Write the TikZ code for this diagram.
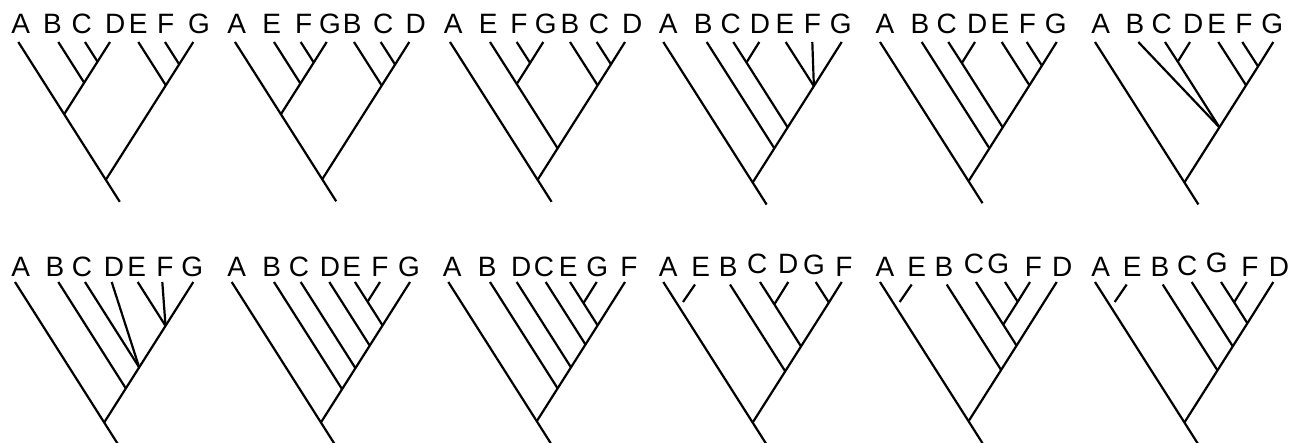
\documentclass[tikz,border=0pt]{standalone}
\usepackage{fontspec}
\setmainfont{Liberation Sans}
\usetikzlibrary{calc}
\newcommand\kk{0.635}
\newcommand\tipc[3]{\coordinate (#1) at (#2,#3); \coordinate (#1R) at ($(#1)+(\kk,1)$); \coordinate (#1L) at ($(#1)+(-\kk,1)$);}
\newcommand\junc[3]{\coordinate (#1) at (intersection of #2--#2R and #3--#3L);}
\newcommand\stemc[1]{\coordinate (#1S) at ($(#1)+({22*\kk},22)$);}
\newcommand\stubc[1]{\coordinate (#1e) at ($(#1)+(-12,17.5)$);}
\begin{document}
\begin{tikzpicture}[x=1pt,y={(0pt,-1pt)},
  br/.style={line width=2.2pt},
  lab/.style={anchor=base, inner sep=0pt, font=\fontsize{28}{28}\selectfont}]
\useasboundingbox (0,0) rectangle (1301,443);
%%%%%%%%%%%%%%%% Row 1
% Tree 1
\tipc{t1A}{18.3}{42}\tipc{t1B}{58.3}{42}\tipc{t1C}{85}{42}\tipc{t1D}{110}{42}\tipc{t1E}{138.3}{42}\tipc{t1F}{165}{42}\tipc{t1G}{193.3}{42}
\junc{t1cd}{t1C}{t1D}\junc{t1bcd}{t1B}{t1D}\junc{t1abcd}{t1A}{t1D}\junc{t1fg}{t1F}{t1G}\junc{t1efg}{t1E}{t1G}\junc{t1r}{t1A}{t1G}\stemc{t1r}
\draw[br] (t1A)--(t1abcd)--(t1r)--(t1rS);
\draw[br] (t1B)--(t1bcd); \draw[br] (t1C)--(t1cd); \draw[br] (t1D)--(t1cd)--(t1bcd)--(t1abcd);
\draw[br] (t1E)--(t1efg); \draw[br] (t1F)--(t1fg); \draw[br] (t1G)--(t1fg)--(t1efg)--(t1r);
\node[lab] (l1A) at (20.8,33.3) {A}; \node[lab] (l1B) at (52.5,33.3) {B}; \node[lab] (l1C) at (81.7,33.3) {C};
\node[lab] (l1D) at (115.3,33.3) {D}; \node[lab] (l1E) at (138.3,33.3) {E}; \node[lab] (l1F) at (165.7,33.3) {F}; \node[lab] (l1G) at (199,33.3) {G};
% Tree 2
\tipc{t2A}{235}{42}\tipc{t2E}{274}{42}\tipc{t2F}{300.7}{42}\tipc{t2G}{326.7}{42}\tipc{t2B}{354}{42}\tipc{t2C}{380.7}{42}\tipc{t2D}{409.3}{42}
\junc{t2fg}{t2F}{t2G}\junc{t2efg}{t2E}{t2G}\junc{t2aefg}{t2A}{t2G}\junc{t2cd}{t2C}{t2D}\junc{t2bcd}{t2B}{t2D}\junc{t2r}{t2A}{t2D}\stemc{t2r}
\draw[br] (t2A)--(t2aefg)--(t2r)--(t2rS);
\draw[br] (t2E)--(t2efg); \draw[br] (t2F)--(t2fg); \draw[br] (t2G)--(t2fg)--(t2efg)--(t2aefg);
\draw[br] (t2B)--(t2bcd); \draw[br] (t2C)--(t2cd); \draw[br] (t2D)--(t2cd)--(t2bcd)--(t2r);
\node[lab] (l2A) at (236.7,33.3) {A}; \node[lab] (l2E) at (271.7,33.3) {E}; \node[lab] (l2F) at (303.7,33.3) {F};
\node[lab] (l2G) at (330,33.3) {G}; \node[lab] (l2B) at (352.3,33.3) {B}; \node[lab] (l2C) at (383.3,33.3) {C}; \node[lab] (l2D) at (415.7,33.3) {D};
% Tree 3
\tipc{t3A}{450}{42}\tipc{t3E}{490}{42}\tipc{t3F}{516.7}{42}\tipc{t3G}{543.3}{42}\tipc{t3B}{570}{42}\tipc{t3C}{596.7}{42}\tipc{t3D}{625}{42}
\junc{t3fg}{t3F}{t3G}\junc{t3efg}{t3E}{t3G}\junc{t3cd}{t3C}{t3D}\junc{t3bcd}{t3B}{t3D}\junc{t3m}{t3E}{t3D}\junc{t3r}{t3A}{t3D}\stemc{t3r}
\draw[br] (t3A)--(t3r)--(t3rS);
\draw[br] (t3E)--(t3efg)--(t3m); \draw[br] (t3F)--(t3fg); \draw[br] (t3G)--(t3fg)--(t3efg);
\draw[br] (t3B)--(t3bcd); \draw[br] (t3C)--(t3cd); \draw[br] (t3D)--(t3cd)--(t3bcd)--(t3m)--(t3r);
\node[lab] (l3A) at (453.3,33.3) {A}; \node[lab] (l3E) at (488.3,33.3) {E}; \node[lab] (l3F) at (519,33.3) {F};
\node[lab] (l3G) at (545.7,33.3) {G}; \node[lab] (l3B) at (570,33.3) {B}; \node[lab] (l3C) at (599,33.3) {C}; \node[lab] (l3D) at (632.3,33.3) {D};
% Tree 4
\tipc{t4A}{663.3}{42}\tipc{t4B}{706.7}{42}\tipc{t4C}{733.3}{42}\tipc{t4D}{759.3}{42}\tipc{t4E}{785.7}{42}\tipc{t4F}{812.3}{42}\tipc{t4G}{841.7}{42}
\junc{t4cd}{t4C}{t4D}\junc{t4efg}{t4E}{t4G}\junc{t4cx}{t4C}{t4G}\junc{t4bx}{t4B}{t4G}\junc{t4r}{t4A}{t4G}\stemc{t4r}
\draw[br] (t4A)--(t4r)--(t4rS);
\draw[br] (t4B)--(t4bx); \draw[br] (t4C)--(t4cd)--(t4cx); \draw[br] (t4D)--(t4cd);
\draw[br] (t4E)--(t4efg); \draw[br] (t4F)--(t4efg); \draw[br] (t4G)--(t4efg)--(t4cx)--(t4bx)--(t4r);
\node[lab] (l4A) at (668.3,33.3) {A}; \node[lab] (l4B) at (703.3,33.3) {B}; \node[lab] (l4C) at (730.7,33.3) {C};
\node[lab] (l4D) at (760,33.3) {D}; \node[lab] (l4E) at (785,33.3) {E}; \node[lab] (l4F) at (812.3,33.3) {F}; \node[lab] (l4G) at (840.7,33.3) {G};
% Tree 5
\tipc{t5A}{880}{42}\tipc{t5B}{921.7}{42}\tipc{t5C}{948.3}{42}\tipc{t5D}{975}{42}\tipc{t5E}{1001.7}{42}\tipc{t5F}{1026.7}{42}\tipc{t5G}{1056.7}{42}
\junc{t5cd}{t5C}{t5D}\junc{t5fg}{t5F}{t5G}\junc{t5efg}{t5E}{t5G}\junc{t5cx}{t5C}{t5G}\junc{t5bx}{t5B}{t5G}\junc{t5r}{t5A}{t5G}\stemc{t5r}
\draw[br] (t5A)--(t5r)--(t5rS);
\draw[br] (t5B)--(t5bx); \draw[br] (t5C)--(t5cd)--(t5cx); \draw[br] (t5D)--(t5cd);
\draw[br] (t5E)--(t5efg); \draw[br] (t5F)--(t5fg); \draw[br] (t5G)--(t5fg)--(t5efg)--(t5cx)--(t5bx)--(t5r);
\node[lab] (l5A) at (885,33.3) {A}; \node[lab] (l5B) at (920,33.3) {B}; \node[lab] (l5C) at (946.7,33.3) {C};
\node[lab] (l5D) at (977.3,33.3) {D}; \node[lab] (l5E) at (1000,33.3) {E}; \node[lab] (l5F) at (1027.3,33.3) {F}; \node[lab] (l5G) at (1055.7,33.3) {G};
% Tree 6
\tipc{t6A}{1095}{42}\tipc{t6B}{1138.3}{42}\tipc{t6C}{1165}{42}\tipc{t6D}{1190}{42}\tipc{t6E}{1218.3}{42}\tipc{t6F}{1242.3}{42}\tipc{t6G}{1273.3}{42}
\junc{t6cd}{t6C}{t6D}\junc{t6fg}{t6F}{t6G}\junc{t6efg}{t6E}{t6G}\junc{t6cx}{t6C}{t6G}\junc{t6r}{t6A}{t6G}\stemc{t6r}
\draw[br] (t6A)--(t6r)--(t6rS);
\draw[br] (t6B)--(t6cx); \draw[br] (t6C)--(t6cd)--(t6cx); \draw[br] (t6D)--(t6cd);
\draw[br] (t6E)--(t6efg); \draw[br] (t6F)--(t6fg); \draw[br] (t6G)--(t6fg)--(t6efg)--(t6cx)--(t6r);
\node[lab] (l6A) at (1100.7,33.3) {A}; \node[lab] (l6B) at (1135,33.3) {B}; \node[lab] (l6C) at (1161.7,33.3) {C};
\node[lab] (l6D) at (1193.3,33.3) {D}; \node[lab] (l6E) at (1216.7,33.3) {E}; \node[lab] (l6F) at (1244,33.3) {F}; \node[lab] (l6G) at (1272.3,33.3) {G};
%%%%%%%%%%%%%%%% Row 2
% Tree 7
\tipc{t7A}{15}{282}\tipc{t7B}{58.3}{282}\tipc{t7C}{85}{282}\tipc{t7D}{111.7}{282}\tipc{t7E}{137.7}{282}\tipc{t7F}{162.3}{282}\tipc{t7G}{193.3}{282}
\junc{t7efg}{t7E}{t7G}\junc{t7cx}{t7C}{t7G}\junc{t7bx}{t7B}{t7G}\junc{t7r}{t7A}{t7G}\stemc{t7r}
\draw[br] (t7A)--(t7r)--(t7rS);
\draw[br] (t7B)--(t7bx); \draw[br] (t7C)--(t7cx); \draw[br] (t7D)--(t7cx);
\draw[br] (t7E)--(t7efg); \draw[br] (t7F)--(t7efg); \draw[br] (t7G)--(t7efg)--(t7cx)--(t7bx)--(t7r);
\node[lab] (l7A) at (20.7,276.5) {A}; \node[lab] (l7B) at (55,276.5) {B}; \node[lab] (l7C) at (82,276.5) {C};
\node[lab] (l7D) at (114,276.5) {D}; \node[lab] (l7E) at (136.7,276.5) {E}; \node[lab] (l7F) at (165,276.5) {F}; \node[lab] (l7G) at (192.3,276.5) {G};
% Tree 8
\tipc{t8A}{231.7}{282}\tipc{t8B}{274}{282}\tipc{t8C}{300.7}{282}\tipc{t8D}{329.3}{282}\tipc{t8E}{355}{282}\tipc{t8F}{380}{282}\tipc{t8G}{410}{282}
\junc{t8ef}{t8E}{t8F}\junc{t8efg}{t8E}{t8G}\junc{t8dx}{t8D}{t8G}\junc{t8cx}{t8C}{t8G}\junc{t8bx}{t8B}{t8G}\junc{t8r}{t8A}{t8G}\stemc{t8r}
\draw[br] (t8A)--(t8r)--(t8rS);
\draw[br] (t8B)--(t8bx); \draw[br] (t8C)--(t8cx); \draw[br] (t8D)--(t8dx);
\draw[br] (t8E)--(t8ef)--(t8efg); \draw[br] (t8F)--(t8ef); \draw[br] (t8G)--(t8efg)--(t8dx)--(t8cx)--(t8bx)--(t8r);
\node[lab] (l8A) at (236.7,276.5) {A}; \node[lab] (l8B) at (271.7,276.5) {B}; \node[lab] (l8C) at (299,276.5) {C};
\node[lab] (l8D) at (330,276.5) {D}; \node[lab] (l8E) at (351.7,276.5) {E}; \node[lab] (l8F) at (380,276.5) {F}; \node[lab] (l8G) at (409,276.5) {G};
% Tree 9
\tipc{t9A}{448.3}{282}\tipc{t9B}{490}{282}\tipc{t9D}{516.7}{282}\tipc{t9C}{545.7}{282}\tipc{t9E}{570}{282}\tipc{t9G}{596.7}{282}\tipc{t9F}{625}{282}
\junc{t9eg}{t9E}{t9G}\junc{t9egf}{t9E}{t9F}\junc{t9cx}{t9C}{t9F}\junc{t9dx}{t9D}{t9F}\junc{t9bx}{t9B}{t9F}\junc{t9r}{t9A}{t9F}\stemc{t9r}
\draw[br] (t9A)--(t9r)--(t9rS);
\draw[br] (t9B)--(t9bx); \draw[br] (t9D)--(t9dx); \draw[br] (t9C)--(t9cx);
\draw[br] (t9E)--(t9eg)--(t9egf); \draw[br] (t9G)--(t9eg); \draw[br] (t9F)--(t9egf)--(t9cx)--(t9dx)--(t9bx)--(t9r);
\node[lab] (l9A) at (452.3,276.5) {A}; \node[lab] (l9B) at (487.3,276.5) {B}; \node[lab] (l9D) at (521.3,276.5) {D};
\node[lab] (l9C) at (544,276.5) {C}; \node[lab] (l9E) at (568.3,276.5) {E}; \node[lab] (l9G) at (597.3,276.5) {G}; \node[lab] (l9F) at (629,276.5) {F};
% Tree 10
\tipc{t10A}{663.3}{282}\tipc{t10E}{695}{284.5}\tipc{t10B}{730}{284.5}\tipc{t10C}{760}{282}\tipc{t10D}{788.3}{282}\tipc{t10G}{815.7}{282}\tipc{t10F}{841.7}{282}
\junc{t10cd}{t10C}{t10D}\junc{t10gf}{t10G}{t10F}\junc{t10cx}{t10C}{t10F}\junc{t10bx}{t10B}{t10F}\junc{t10r}{t10A}{t10F}\stemc{t10r}\stubc{t10E}
\draw[br] (t10A)--(t10r)--(t10rS); \draw[br] (t10E)--(t10Ee);
\draw[br] (t10B)--(t10bx); \draw[br] (t10C)--(t10cd)--(t10cx); \draw[br] (t10D)--(t10cd);
\draw[br] (t10G)--(t10gf); \draw[br] (t10F)--(t10gf)--(t10cx)--(t10bx)--(t10r);
\node[lab] (l10A) at (668.3,276.5) {A}; \node[lab] (l10E) at (700.7,276.5) {E}; \node[lab] (l10B) at (728.3,276.5) {B};
\node[lab] (l10C) at (757.3,273.5) {C}; \node[lab] (l10D) at (788.3,273.5) {D}; \node[lab] (l10G) at (814,274.5) {G}; \node[lab] (l10F) at (844,276.5) {F};
% Tree 11
\tipc{t11A}{880}{282}\tipc{t11E}{911.7}{284.5}\tipc{t11B}{946.7}{284.5}\tipc{t11C}{976}{282}\tipc{t11G}{1005}{282}\tipc{t11F}{1030}{282}\tipc{t11D}{1056.7}{282}
\junc{t11gf}{t11G}{t11F}\junc{t11cgf}{t11C}{t11F}\junc{t11cx}{t11C}{t11D}\junc{t11bx}{t11B}{t11D}\junc{t11r}{t11A}{t11D}\stemc{t11r}\stubc{t11E}
\draw[br] (t11A)--(t11r)--(t11rS); \draw[br] (t11E)--(t11Ee);
\draw[br] (t11B)--(t11bx); \draw[br] (t11C)--(t11cgf)--(t11cx);
\draw[br] (t11G)--(t11gf); \draw[br] (t11F)--(t11gf)--(t11cgf); \draw[br] (t11D)--(t11cx)--(t11bx)--(t11r);
\node[lab] (l11A) at (885,276.5) {A}; \node[lab] (l11E) at (916.7,276.5) {E}; \node[lab] (l11B) at (944,276.5) {B};
\node[lab] (l11C) at (974,273.5) {C}; \node[lab] (l11G) at (998.3,273.5) {G}; \node[lab] (l11F) at (1033.3,276.5) {F}; \node[lab] (l11D) at (1062.3,276.5) {D};
% Tree 12
\tipc{t12A}{1095}{282}\tipc{t12E}{1126.7}{284.5}\tipc{t12B}{1162.7}{284.5}\tipc{t12C}{1191.7}{282}\tipc{t12G}{1221}{282}\tipc{t12F}{1246.7}{282}\tipc{t12D}{1273.3}{282}
\junc{t12gf}{t12G}{t12F}\junc{t12gfd}{t12G}{t12D}\junc{t12cx}{t12C}{t12D}\junc{t12bx}{t12B}{t12D}\junc{t12r}{t12A}{t12D}\stemc{t12r}\stubc{t12E}
\draw[br] (t12A)--(t12r)--(t12rS); \draw[br] (t12E)--(t12Ee);
\draw[br] (t12B)--(t12bx); \draw[br] (t12C)--(t12cx);
\draw[br] (t12G)--(t12gf)--(t12gfd); \draw[br] (t12F)--(t12gf); \draw[br] (t12D)--(t12gfd)--(t12cx)--(t12bx)--(t12r);
\node[lab] (l12A) at (1100.7,276.5) {A}; \node[lab] (l12E) at (1132.3,276.5) {E}; \node[lab] (l12B) at (1160,276.5) {B};
\node[lab] (l12C) at (1187.3,275.5) {C}; \node[lab] (l12G) at (1216.7,272.5) {G}; \node[lab] (l12F) at (1250,276.5) {F}; \node[lab] (l12D) at (1279,276.5) {D};
\end{tikzpicture}
\end{document}
